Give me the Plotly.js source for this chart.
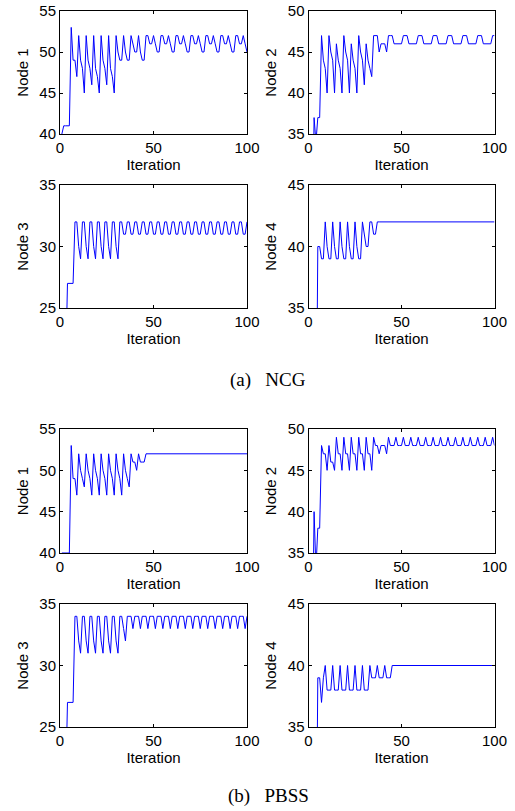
<!DOCTYPE html>
<html>
<head>
<meta charset="utf-8">
<script src="https://cdn.plot.ly/plotly-3.0.1.min.js"></script>
<style>
html,body{margin:0;padding:0;background:#fff;}
#chart{width:515px;height:811px;}
</style>
</head>
<body>
<div id="chart"></div>
<script>
// ---- data ----
const iterations = Array.from({length: 100}, (_, i) => i + 1);

const ncgNode1 = [40,41,41,41,41, 53,49,49,47,52,
  49,48,45,52, 49,48,46,52, 48,47,45,52, 49,48,46,52, 48,47,45,52,
  50,49,49,52, 50,49,49,52, 51,50,50,52, 50,49,49,52,
  52,51,51,52,51,50,50,
  52,52,51,51,52,51,50,50,
  52,52,51,51,52,51,50,50,
  52,52,51,51,52,51,50,50,
  52,52,51,51,52,51,50,50,
  52,52,51,51,52,51,50,50,
  52,52,51,51,52,51,50];

const ncgNode2 = [20,20,37,34,37,37,47, 44,43,40,
  47,45,44,40, 46,44,43,40, 47,45,44,40, 46,44,43,40,
  47,45,44,41, 46,44,43,42, 47,47,47,45, 46,46,46,45,
  47,47,47,
  46,46,46,46,46,47,47,47, 46,46,46,46,46,47,47,47,
  46,46,46,46,46,47,47,47, 46,46,46,46,46,47,47,47,
  46,46,46,46,46,47,47,47, 46,46,46,46,46,47,47,47,
  46,46,46,46,46,47,47];

const ncgNode3 = [20,20,20, 27,27,27,27,
  32,32,30,29, 32,32,30,29, 32,32,30,29, 32,32,30,29, 32,32,30,29, 32,32,30,29,
  32,32,31,31, 32,32,31,31, 32,32,31,31, 32,32,31,31, 32,32,31,31,
  32,32,31,31, 32,32,31,31, 32,32,31,31, 32,32,31,31, 32,32,31,31,
  32,32,31,31, 32,32,31,31, 32,32,31,31, 32,32,31,31, 32,32,31,31,
  32,32,31,31, 32,32,31,31, 32];

const ncgNode4 = [20,20,20,20, 40,40,39,39,42,
  40,39,39,42, 40,39,39,42, 40,39,39,42, 40,39,39,42, 40,39,39,42,
  41,40,40,42,42,41,41,
  42,42,42,42,42,42,42,42,42,42,42,42,42,42,42,42,
  42,42,42,42,42,42,42,42,42,42,42,42,42,42,42,42,
  42,42,42,42,42,42,42,42,42,42,42,42,42,42,42,42,
  42,42,42,42,42,42,42,42,42,42,42,42,42,42,42,42];

const pbssNode1 = [40,40,40,40,40, 53,49,49,47,52,
  50,49,48,52, 50,49,47,52, 50,49,47,52, 50,49,47,52, 50,49,47,52,
  50,49,47,52, 50,49,48,52,
  51,51,50,52, 51,51,51,
  52,52,52,52,52,52,52,52,52,52,52,52,52,52,52,52,52,52,52,52,
  52,52,52,52,52,52,52,52,52,52,52,52,52,52,52,52,52,52,52,52,
  52,52,52,52,52,52,52,52,52,52,52,52,52,52,52];

const pbssNode2 = [20,20,40,33,38,38,48, 47,47,45,
  48,46,46,45, 49,47,47,45, 49,47,47,45, 49,47,47,45, 49,47,47,45, 49,47,47,45,
  49,48,48,47, 48,48,48,47,
  49,48,48,48, 49,48,48,48, 49,48,48,48, 49,48,48,48, 49,48,48,48,
  49,48,48,48, 49,48,48,48, 49,48,48,48, 49,48,48,48, 49,48,48,48,
  49,48,48,48, 49,48,48,48, 49,48,48,48, 49,48,48,48, 49,48];

const pbssNode3 = [20,20,20, 27,27,27,27,
  34,34,32,31, 34,34,32,31, 34,34,32,31, 34,34,32,31, 34,34,32,31, 34,34,32,31,
  34,34,33,32, 34,
  34,34,33,34, 34,34,33,34, 34,34,33,34, 34,34,33,34, 34,34,33,34,
  34,34,33,34, 34,34,33,34, 34,34,33,34, 34,34,33,34, 34,34,33,34,
  34,34,33,34, 34,34,33,34, 34,34,33,34, 34,34,33,34, 34,34,33,34,
  34,34,33,34];

const pbssNode4 = [20,20,20,20, 39,39,37,39,40,
  38,38,38,40, 38,38,38,40, 38,38,38,40, 38,38,38,40, 38,38,38,40, 38,38,38,40,
  39,39,39,40, 39,39,39,40, 39,39,39,
  40,40,40,40,40,40,40,40,40,40,40,40,40,40,40,40,40,40,40,40,
  40,40,40,40,40,40,40,40,40,40,40,40,40,40,40,40,40,40,40,40,
  40,40,40,40,40,40,40,40,40,40,40,40,40,40,40,40];

const seriesList = [ncgNode1, ncgNode2, ncgNode3, ncgNode4, pbssNode1, pbssNode2, pbssNode3, pbssNode4];
const nodeLabels = ['Node 1', 'Node 2', 'Node 3', 'Node 4', 'Node 1', 'Node 2', 'Node 3', 'Node 4'];
const yRanges = [[40,55],[35,50],[25,35],[35,45],[40,55],[35,50],[25,35],[35,45]];
const yTicks = [[40,45,50,55],[35,40,45,50],[25,30,35],[35,40,45],[40,45,50,55],[35,40,45,50],[25,30,35],[35,40,45]];
const xTicks = [0, 50, 100];
const xTitle = 'Iteration';
const captions = ['(a)\u00a0\u00a0\u00a0NCG', '(b)\u00a0\u00a0\u00a0PBSS'];

// ---- layout geometry ----
const W = 515, H = 811;
const cols = [[60, 247], [308.5, 494.5]];
const rows = [[11, 134], [185, 308], [429, 553], [604, 727]];
const tickFont = {family: 'Liberation Sans, Arial, Helvetica, sans-serif', size: 15, color: '#000'};
const capFont = {family: 'Liberation Serif, Times New Roman, serif', size: 19, color: '#000'};

const traces = [];
const layout = {
  width: W, height: H,
  margin: {l: 0, r: 0, t: 0, b: 0},
  paper_bgcolor: '#fff', plot_bgcolor: '#fff',
  showlegend: false,
  annotations: []
};

seriesList.forEach((ys, k) => {
  const n = k + 1;
  const suf = n === 1 ? '' : String(n);
  const col = cols[k % 2];
  const row = rows[Math.floor(k / 2)];
  traces.push({
    x: iterations, y: ys,
    xaxis: 'x' + suf, yaxis: 'y' + suf,
    mode: 'lines', line: {color: '#0000ff', width: 1}, hoverinfo: 'skip'
  });
  const common = {
    showline: true, linecolor: '#000', linewidth: 1, mirror: 'ticks',
    ticks: 'inside', ticklen: 3, tickwidth: 1, tickcolor: '#000',
    showgrid: false, zeroline: false, tickfont: tickFont, fixedrange: true
  };
  layout['xaxis' + suf] = Object.assign({}, common, {
    domain: [col[0] / W, col[1] / W],
    anchor: 'y' + suf,
    range: [0, 100], tickvals: xTicks, ticktext: xTicks.map(String),
    title: {text: xTitle, font: tickFont, standoff: 4}
  });
  layout['yaxis' + suf] = Object.assign({}, common, {
    domain: [1 - row[1] / H, 1 - row[0] / H],
    anchor: 'x' + suf,
    range: yRanges[k], tickvals: yTicks[k], ticktext: yTicks[k].map(String),
    title: {text: nodeLabels[k], font: tickFont, standoff: 7}
  });
});

[[captions[0], 380], [captions[1], 796]].forEach(([txt, yc]) => {
  layout.annotations.push({
    text: txt, xref: 'paper', yref: 'paper', x: 268 / W, y: 1 - yc / H,
    showarrow: false, xanchor: 'center', yanchor: 'middle', font: capFont
  });
});

Plotly.newPlot('chart', traces, layout, {displayModeBar: false, staticPlot: true});
</script>
</body>
</html>
